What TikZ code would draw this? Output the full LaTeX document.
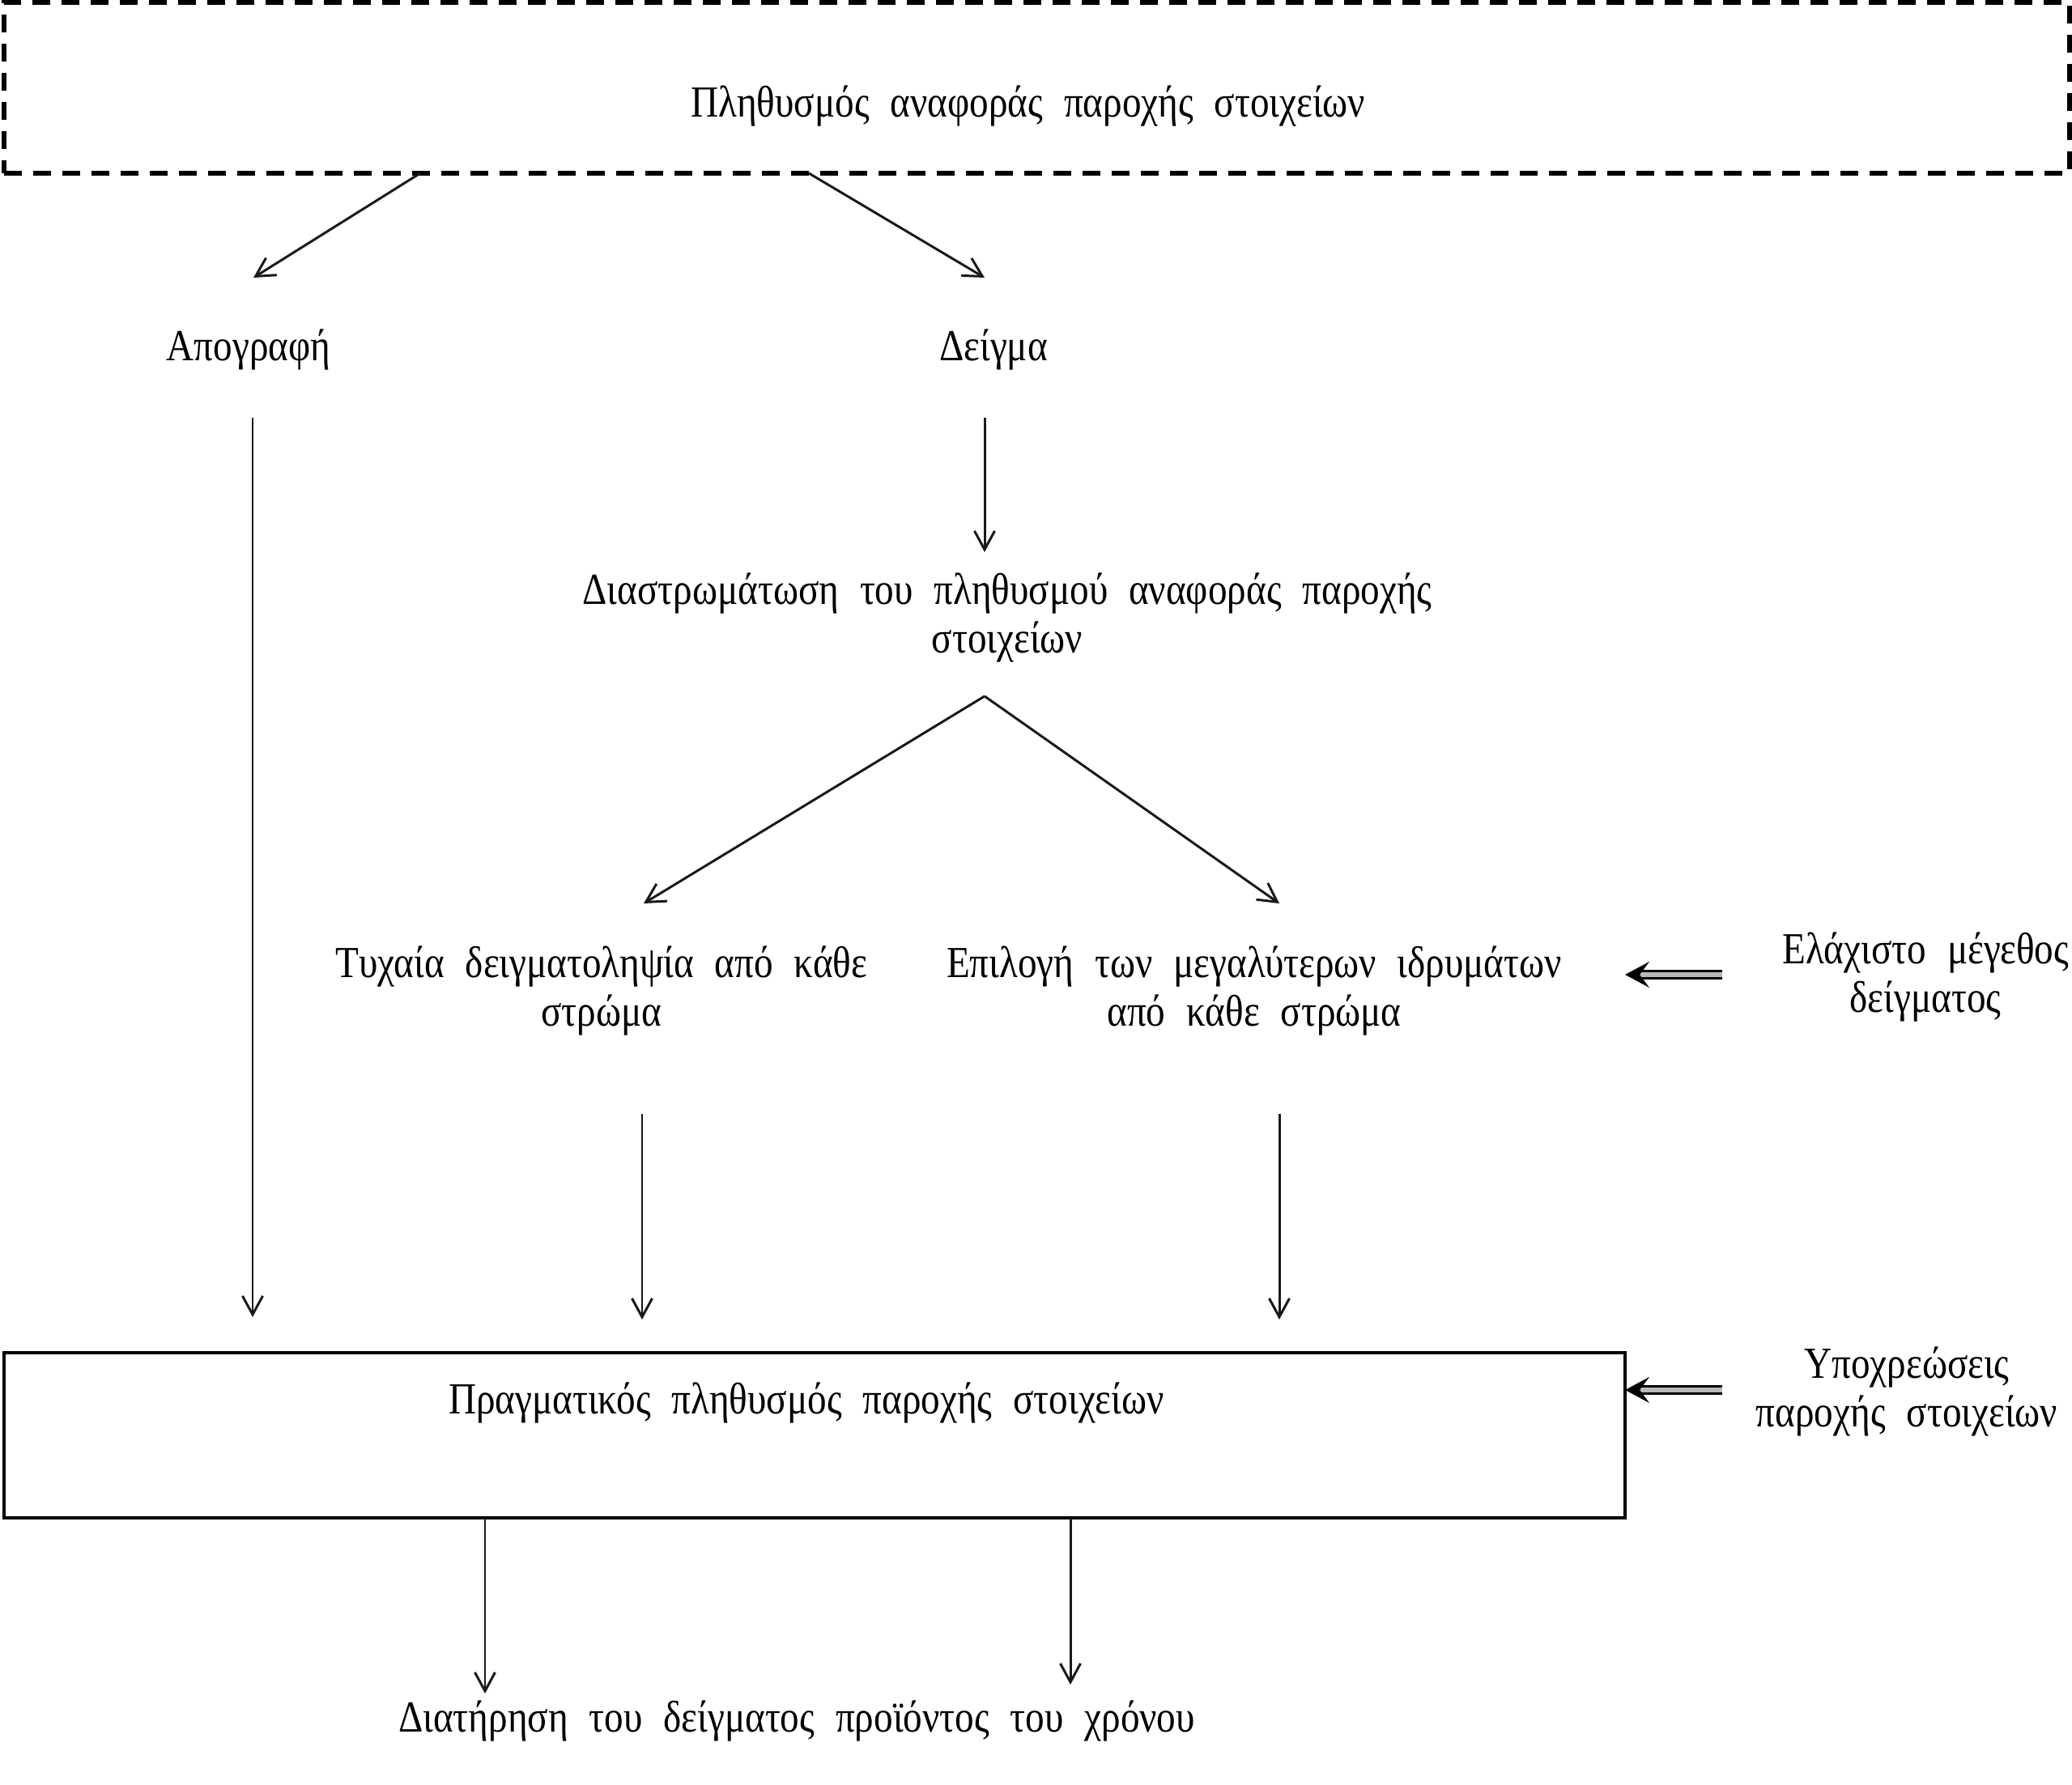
\documentclass[tikz,border=0pt]{standalone}
\usepackage{fontspec}
\setmainfont{Liberation Serif}[FakeStretch=0.86, WordSpace=2.2]
\usetikzlibrary{arrows.meta}

\begin{document}
\begin{tikzpicture}[>={Straight Barb[length=2.3mm,width=2.5mm]}]

% --- Styles ---
\tikzset{
    refFrame/.style={
        draw=black,
        line width=1.5pt,
        dash pattern=on 0.22cm off 0.14cm,
        inner sep=0pt, outer sep=0pt
    },
    actualFrame/.style={
        draw=black,
        line width=1.2pt,
        inner sep=0pt, outer sep=0pt
    },
    boxLabel/.style={
        font=\fontsize{15.6}{16.8}\selectfont,
        align=center,
        inner sep=0pt
    },
    flowLine/.style={
        draw=black!90,
        line width=0.85pt
    },
    inputArrow/.style={
        draw=black,
        double=gray!55,
        double distance=1.8pt,
        line width=0.7pt,
        -{Stealth[length=3mm,width=3.2mm,inset=1.2mm]}
    }
}

\useasboundingbox (0,0) rectangle (25.59,-22.05);

% =========================================================
% Frames
% =========================================================

\node[refFrame, minimum width=25.51cm, minimum height=2.11cm] (pop) at (12.805,-1.085) {};
\node[actualFrame, minimum width=20.02cm, minimum height=2.04cm] (actual) at (10.06,-17.73) {};

% Labels
\node[boxLabel] (popLabel) at (12.70,-1.31) {Πληθυσμός αναφοράς παροχής στοιχείων};
\node[boxLabel] (census) at (3.07,-4.32) {Απογραφή};
\node[boxLabel] (sample) at (12.27,-4.32) {Δείγμα};
\node[boxLabel] (strata) at (12.44,-7.63) {Διαστρωμάτωση του πληθυσμού αναφοράς παροχής\\στοιχείων};
\node[boxLabel] (random) at (7.43,-12.24) {Τυχαία δειγματοληψία από κάθε\\στρώμα};
\node[boxLabel] (largest) at (15.49,-12.24) {Επιλογή των μεγαλύτερων ιδρυμάτων\\από κάθε στρώμα};
\node[boxLabel] (minSize) at (23.78,-12.07) {Ελάχιστο μέγεθος\\δείγματος};
\node[boxLabel] (actualLabel) at (9.96,-17.33) {Πραγματικός πληθυσμός παροχής στοιχείων};
\node[boxLabel] (duties) at (23.55,-17.19) {Υποχρεώσεις\\παροχής στοιχείων};
\node[boxLabel] (keep) at (9.84,-21.26) {Διατήρηση του δείγματος προϊόντος του χρόνου};

% =========================================================
% Arrow end points
% =========================================================

\coordinate (popOutL) at (5.19,-2.14);
\coordinate (popOutR) at (9.99,-2.14);
\coordinate (censusIn) at (3.13,-3.43);
\coordinate (sampleIn) at (12.16,-3.43);
\coordinate (censusOut) at (3.12,-5.16);
\coordinate (sampleOut) at (12.16,-5.16);
\coordinate (strataIn) at (12.16,-6.82);
\coordinate (strataOut) at (12.16,-8.60);
\coordinate (randomIn) at (7.95,-11.16);
\coordinate (largestIn) at (15.80,-11.16);
\coordinate (randomOut) at (7.93,-13.76);
\coordinate (largestOut) at (15.80,-13.76);
\coordinate (minSizeOut) at (21.27,-12.04);
\coordinate (largestSide) at (20.07,-12.04);
\coordinate (dutiesOut) at (21.27,-17.17);
\coordinate (keepInL) at (5.99,-20.92);
\coordinate (keepInR) at (13.22,-20.81);

% =========================================================
% Connectors
% =========================================================

\draw[flowLine,->] (popOutL) -- (censusIn);
\draw[flowLine,->] (popOutR) -- (sampleIn);

\draw[flowLine,->] (censusOut) -- (censusOut |- 0,-16.27);
\draw[flowLine,->] (sampleOut) -- (strataIn);

\draw[flowLine,->] (strataOut) -- (randomIn);
\draw[flowLine,->] (strataOut) -- (largestIn);

\draw[flowLine,->] (randomOut) -- (randomOut |- 0,-16.30);
\draw[flowLine,->] (largestOut) -- (largestOut |- 0,-16.30);

\draw[inputArrow] (minSizeOut) -- (largestSide);
\draw[inputArrow] (dutiesOut) -- (dutiesOut -| actual.east);

\draw[flowLine,->] (actual.south -| keepInL) -- (keepInL);
\draw[flowLine,->] (actual.south -| keepInR) -- (keepInR);

\end{tikzpicture}
\end{document}
